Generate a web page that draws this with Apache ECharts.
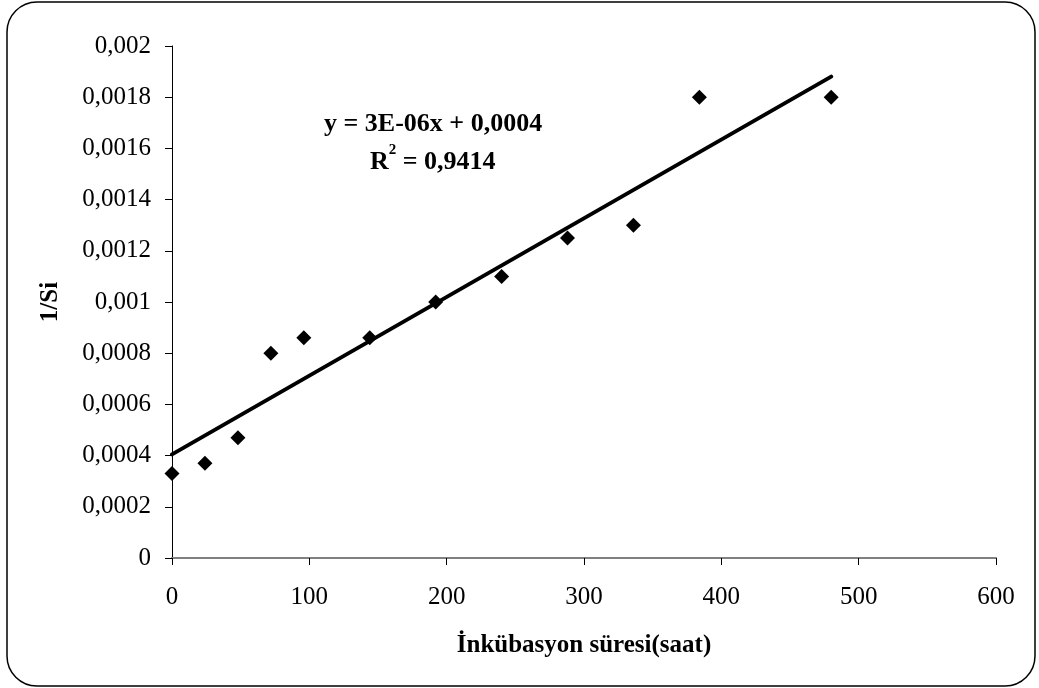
<!DOCTYPE html>
<html>
<head>
<meta charset="utf-8">
<script src="https://cdn.jsdelivr.net/npm/echarts@6/dist/echarts.min.js"></script>
<style>
  html, body { margin: 0; padding: 0; background: #fff; }
  #chart { width: 1039px; height: 688px; }
</style>
</head>
<body>
<div id="chart"></div>
<script>
// Incubation time (hours) and 1/Si measurements
const hours = [0, 24, 48, 72, 96, 144, 192, 240, 288, 336, 384, 480];
const invSi = [0.00033, 0.00037, 0.00047, 0.0008, 0.00086, 0.00086, 0.001, 0.0011, 0.00125, 0.0013, 0.0018, 0.0018];
const equationText = 'y = 3E-06x + 0,0004';
const r2Value = '0,9414';

// least-squares linear fit through the measurements
function linearFit(xs, ys) {
  const n = xs.length;
  const mx = xs.reduce((a, b) => a + b, 0) / n;
  const my = ys.reduce((a, b) => a + b, 0) / n;
  let sxy = 0, sxx = 0;
  for (let i = 0; i < n; i++) {
    sxy += (xs[i] - mx) * (ys[i] - my);
    sxx += (xs[i] - mx) * (xs[i] - mx);
  }
  const slope = sxy / sxx;
  return { slope, intercept: my - slope * mx };
}
const fit = linearFit(hours, invSi);
const xFirst = Math.min(...hours), xLast = Math.max(...hours);
const trend = [
  [xFirst, fit.intercept + fit.slope * xFirst],
  [xLast, fit.intercept + fit.slope * xLast]
];

const points = hours.map((h, i) => [h, invSi[i]]);
const FONT = '"Liberation Serif", "Times New Roman", serif';
const decimalComma = v => String(Number(v.toFixed(6))).replace('.', ',');

const chart = echarts.init(document.getElementById('chart'));
chart.setOption({
  animation: false,
  backgroundColor: '#fff',
  grid: { left: 172, right: 43, top: 46, bottom: 130 },
  xAxis: {
    type: 'value', min: 0, max: 600, interval: 100,
    name: 'İnkübasyon süresi(saat)',
    nameLocation: 'middle', nameGap: 75,
    nameTextStyle: { fontFamily: FONT, fontWeight: 'bold', fontSize: 25, color: '#000' },
    axisLine: { lineStyle: { color: '#808080', width: 2 } },
    axisTick: { show: true, length: 7, lineStyle: { color: '#000', width: 1 } },
    axisLabel: { fontFamily: FONT, fontSize: 25, color: '#000', margin: 27 },
    splitLine: { show: false }
  },
  yAxis: {
    type: 'value', min: 0, max: 0.002, interval: 0.0002,
    name: '1/Si',
    nameLocation: 'middle', nameGap: 109,
    nameTextStyle: { fontFamily: FONT, fontWeight: 'bold', fontSize: 25, color: '#000' },
    axisLine: { show: true, lineStyle: { color: '#000', width: 1 } },
    axisTick: { show: true, length: 7, lineStyle: { color: '#000', width: 1 } },
    axisLabel: { fontFamily: FONT, fontSize: 25, color: '#000', margin: 21, formatter: decimalComma },
    splitLine: { show: false }
  },
  graphic: [
    {
      type: 'rect', silent: true,
      shape: { x: 7, y: 2, width: 1028, height: 684, r: 30 },
      style: { fill: 'none', stroke: '#000', lineWidth: 1.5 }
    },
    {
      type: 'text', left: 324, top: 111,
      style: { text: equationText, font: 'bold 26px ' + FONT, fill: '#000' }
    },
    {
      type: 'text', left: 370, top: 143,
      style: {
        text: '{b|R}{s|2}{b| = ' + r2Value + '}',
        rich: {
          b: { font: 'bold 26px ' + FONT, fill: '#000', verticalAlign: 'bottom', lineHeight: 32 },
          s: { font: 'bold 15px ' + FONT, fill: '#000', verticalAlign: 'top', lineHeight: 32, padding: [0, 0, 14, 0] }
        }
      }
    }
  ],
  series: [
    {
      type: 'line', data: trend, showSymbol: false, symbol: 'none',
      lineStyle: { color: '#000', width: 4, cap: 'round' }, z: 2
    },
    {
      type: 'scatter', data: points, symbol: 'diamond', symbolSize: 15,
      itemStyle: { color: '#000', opacity: 1 }, z: 3
    }
  ]
});
</script>
</body>
</html>
